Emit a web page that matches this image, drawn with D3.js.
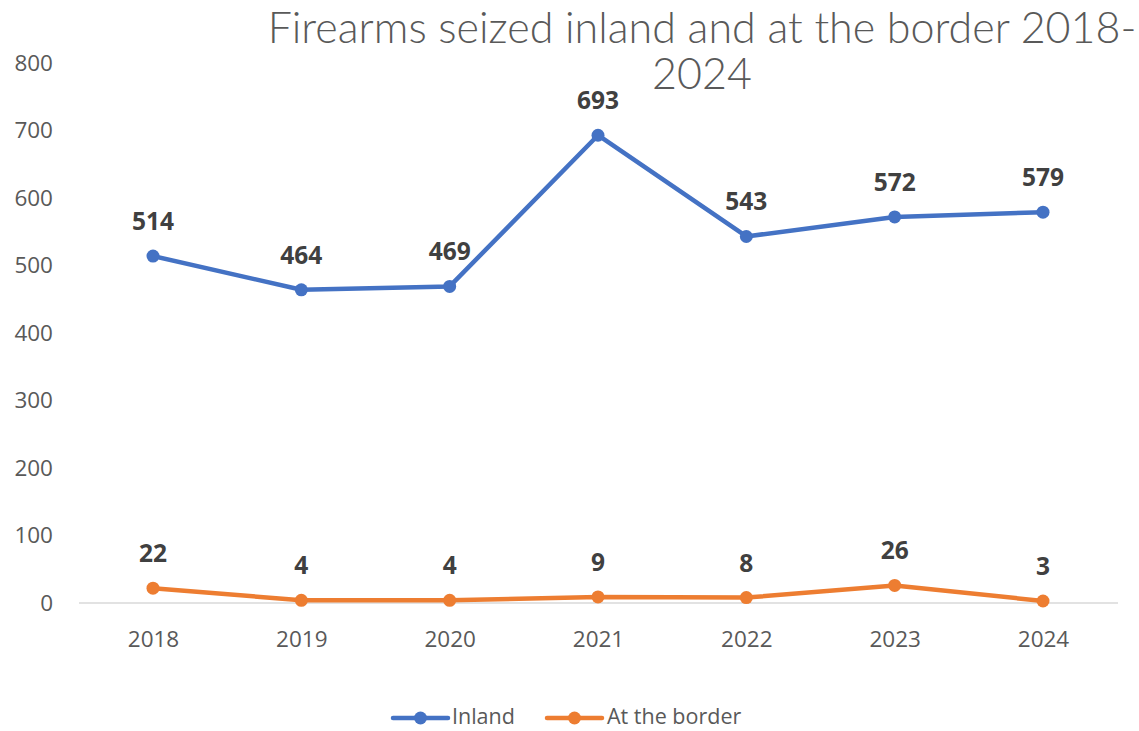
<!DOCTYPE html>
<html><head><meta charset="utf-8">
<script src="https://cdn.jsdelivr.net/npm/d3@7"></script>
<style>body{margin:0;background:#fff}</style>
</head><body>
<svg id="c" width="1139" height="731"></svg>
<script>
const years = ["2018","2019","2020","2021","2022","2023","2024"];
const inland = [514,464,469,693,543,572,579];
const border = [22,4,4,9,8,26,3];
const yTicks = [0,100,200,300,400,500,600,700,800];
const seriesNames = ["Inland","At the border"];
const colors = ["#4472C4","#ED7D31"];

const svg = d3.select("#c");
const x = d3.scalePoint().domain(years).range([153,1043]);
const y = d3.scaleLinear().domain([0,800]).range([603,63]);

// baseline
svg.append("line").attr("x1",79).attr("x2",1118).attr("y1",y(0)).attr("y2",y(0))
  .attr("stroke","#d9d9d9").attr("stroke-width",1.5);

// y axis
const yAxis = d3.axisLeft(y).tickValues(yTicks).tickSize(0).tickPadding(0);
const ga = svg.append("g").attr("transform","translate(53,0)").call(yAxis);
ga.select(".domain").remove();
ga.selectAll("text").attr("font-family","'Open Sans', sans-serif").attr("font-size",22.5).attr("fill","#595959");

// x axis
const xAxis = d3.axisBottom(x).tickSize(0).tickPadding(0);
const gx = svg.append("g").call(xAxis);
gx.select(".domain").remove();
gx.selectAll("text").attr("dy",null).attr("y",647).attr("font-family","'Open Sans', sans-serif").attr("font-size",22.5).attr("fill","#595959");

const line = d3.line().x((d,i)=>x(years[i])).y(d=>y(d));
[inland,border].forEach((data,si)=>{
  svg.append("path").datum(data).attr("d",line).attr("fill","none")
    .attr("stroke",colors[si]).attr("stroke-width",4.5).attr("stroke-linejoin","round");
  svg.selectAll(null).data(data).enter().append("circle")
    .attr("cx",(d,i)=>x(years[i])).attr("cy",d=>y(d)).attr("r",6.5).attr("fill",colors[si]);
  svg.selectAll(null).data(data).enter().append("text")
    .attr("x",(d,i)=>x(years[i])).attr("y",d=>y(d)-26)
    .attr("text-anchor","middle").attr("font-family","'Open Sans', sans-serif")
    .attr("font-weight","bold").attr("font-size",24.5).attr("fill","#404040")
    .text(d=>d);
});

// title
const t = svg.append("text").attr("text-anchor","middle").attr("font-family","Lato, sans-serif")
  .attr("font-weight",300).attr("font-size",43).attr("fill","#595959");
t.append("tspan").attr("x",702).attr("y",43).text("Firearms seized inland and at the border 2018-");
t.append("tspan").attr("x",702).attr("y",89).text("2024");

// legend
const leg = [{x1:393,tx:452},{x1:547,tx:607}];
leg.forEach((l,i)=>{
  svg.append("line").attr("x1",l.x1).attr("x2",l.x1+55).attr("y1",718).attr("y2",718)
    .attr("stroke",colors[i]).attr("stroke-width",4.5).attr("stroke-linecap","round");
  svg.append("circle").attr("cx",l.x1+27.5).attr("cy",718).attr("r",6.5).attr("fill",colors[i]);
  svg.append("text").attr("x",l.tx).attr("y",724).attr("font-family","'Open Sans', sans-serif")
    .attr("font-size",21.5).attr("fill","#595959").text(seriesNames[i]);
});
</script>
</body></html>
